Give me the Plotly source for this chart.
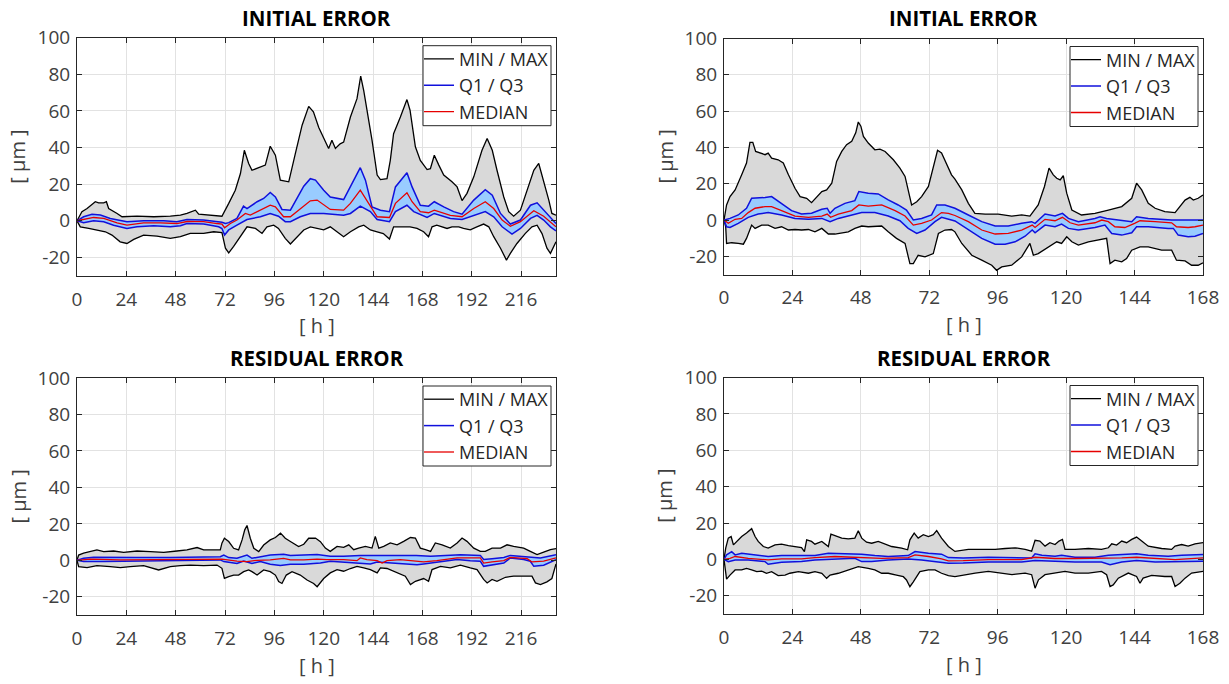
import plotly.graph_objects as go

# ---------------- DATA ----------------
# Top-left: INITIAL ERROR, 0..233 h
TL_MAX_H = [0, 2.4, 4.9, 8.9, 10.5, 13, 14.3, 15.4, 19.5, 21.9, 29.2, 37.3, 45.4, 50.3, 53.5, 57.6, 59.2, 64.9, 70.5, 73.8, 77, 79.5, 81.4, 83.5, 85.1, 88.4, 91.6, 94, 96.5, 98.9, 103, 106.2, 109.5, 112.7, 115, 117.6, 120, 122.4, 124, 125.7, 128, 129.7, 133, 136.2, 138, 139.5, 143.5, 146, 147.6, 150.8, 152.4, 154, 157.3, 160.5, 162, 164.6, 167, 170.3, 171.9, 173.8, 176, 178.4, 182.4, 184.9, 187.3, 189.7, 193, 197, 199.5, 202, 204.3, 207.6, 210, 212.4, 215.7, 219, 222.2, 224.6, 227, 229.5, 231, 233]
TL_MAX_V = [0, 4.9, 6.7, 10.4, 9.8, 9.8, 10.4, 6.7, 4, 2.2, 2.5, 2.2, 2.5, 3.1, 4, 5.8, 3.6, 3.1, 2.5, 9.5, 16.7, 25.8, 38.5, 31.3, 27.6, 29, 30.4, 40.7, 35.8, 22.2, 21.3, 36.7, 52.2, 62.5, 59.5, 51, 45, 39.5, 44, 39.5, 42, 43, 56.7, 66.7, 79, 71, 44, 25, 22.5, 23, 33, 47.6, 56.7, 66.2, 60.4, 40.4, 33, 28, 28.5, 35.8, 30.4, 25, 21.3, 18.5, 11, 15, 24, 38.5, 45, 38.5, 27.6, 13, 5, 2.5, 5.8, 16.7, 27.6, 31.3, 22, 11.3, 4, 3]
TL_MIN_H = [0, 1.6, 5.7, 9.7, 13.8, 17, 21, 24.3, 27.6, 32.4, 38.9, 45.4, 50.3, 55.1, 61.6, 66.5, 70.5, 72.2, 73.8, 76.2, 79.5, 82.7, 86.8, 90, 92.4, 95.7, 98, 101.3, 103.8, 107, 110.3, 113.5, 116.8, 120, 123.2, 126.5, 129.7, 133, 137, 139.5, 142.7, 146, 149, 152, 154, 159, 162, 165.4, 168.6, 171, 172.7, 175, 177.6, 180, 182.4, 185.7, 188, 191.3, 194.5, 197.8, 200.3, 202.7, 206, 208.9, 210.8, 214, 218, 221.3, 223.8, 226.2, 228.6, 230.3, 233]
TL_MIN_V = [0, -3.3, -4.2, -5, -6, -7.8, -11.5, -12.4, -10.2, -7.8, -8.4, -9.6, -8.7, -6.9, -6.9, -6, -6.5, -15, -17.5, -14, -8.7, -3.3, -4.2, -6.9, -3.3, -2.4, -4.2, -9.6, -12.7, -8.7, -5, -3.3, -4.2, -5, -3.3, -6, -8.7, -6, -3.3, -2.4, -5, -6, -7, -10, -3.3, -3.3, -3.3, -4.2, -6, -8.7, -3.3, -2.4, -3.3, -4.2, -3.3, -3.3, -4.2, -5, -3.3, -1.8, -3.3, -8.7, -15, -21.5, -17.8, -12.4, -7, -3.3, -2.4, -7, -15, -17.8, -11.5]
TL_Q3_H = [0, 3.2, 7.3, 11.4, 16.2, 24.3, 32.4, 42.2, 48.6, 53.5, 61.6, 68.1, 70.5, 72.2, 73.8, 77.8, 81, 82.7, 87.6, 90.8, 94, 96.5, 99.7, 103.8, 107, 110.3, 113.5, 116, 120, 123.2, 129.7, 133, 137.8, 140.3, 143.5, 147.6, 152, 154.9, 158, 160.5, 163, 167, 171, 173.8, 178.4, 183.2, 187.3, 193, 198.6, 202, 206, 210.8, 215.7, 220.6, 223.8, 227, 230.3, 233]
TL_Q3_V = [0, 2.2, 3.5, 3.1, 1.3, -0.5, 0, 0, -0.5, 0.7, 0.4, -0.5, -0.8, -1.5, -1, 1.3, 8, 6.7, 10.4, 12.2, 15.5, 13, 6.2, 5.8, 12.2, 18.9, 23, 22.2, 16.7, 13, 11.6, 18.5, 29, 22.2, 7.6, 5.8, 5, 18.5, 23, 26.2, 18.5, 8.5, 8, 10.4, 7.6, 5, 3.6, 11.3, 17, 14, 4, -1.8, 0.4, 8.5, 9.8, 5.8, 1.3, -1.5]
TL_Q1_H = [0, 3.2, 8.1, 13, 17.8, 24.3, 29.2, 37.3, 45.4, 50.3, 53.5, 61.6, 68.9, 70.5, 71.8, 73.8, 77.8, 82.7, 89.2, 94, 98, 101.3, 103.8, 108.6, 113.5, 120, 129.7, 133, 137.8, 142.7, 146, 152, 154.9, 160.5, 163.8, 170.3, 173.8, 181.6, 187.3, 193, 198.6, 202.7, 206.8, 211.6, 215.7, 220.6, 223.8, 227, 230.3, 233]
TL_Q1_V = [0, -1.1, 0, -0.5, -2.4, -4.2, -3.3, -2.7, -3.3, -2.7, -1.5, -1.8, -3.3, -4.2, -7.8, -5, -2.4, 0.7, 2.2, 4, 2.5, -0.5, -0.5, 2.2, 4, 4, 3, 4, 8, 5, 0.7, -0.5, 5, 8.5, 5, 1.8, 4, 1.3, 0.7, 3, 5, 2.2, -3.3, -7.3, -4.2, 1.3, 3, 0.4, -3.3, -5.5]
TL_MED_H = [0, 3.2, 8.1, 13, 19.5, 24.3, 32.4, 40.5, 48.6, 53.5, 61.6, 68.1, 70.5, 71.8, 74.6, 77.8, 81.9, 84.3, 89.2, 94, 96.5, 100.5, 103.8, 108.6, 113.5, 116.8, 120, 123.2, 129.7, 133, 137.8, 141, 146, 152, 154.9, 160.5, 163, 167, 171, 173.8, 181.6, 187.3, 193, 198.6, 202.7, 206.8, 210.8, 215.7, 222.2, 227, 233]
TL_MED_V = [0, 0.7, 1.8, 1.3, -1.1, -2.4, -1.1, -1.1, -1.5, -0.4, -0.5, -1.5, -1.8, -3.8, -1.5, 0.4, 4, 3.1, 5.8, 8.5, 7.6, 2.2, 2.2, 6.7, 10.9, 11.3, 8.5, 6.2, 5.8, 9.5, 16.7, 11.3, 2.2, 1.8, 9.5, 15.3, 10.4, 5, 4.4, 5.8, 3, 2.2, 6.7, 10.4, 6.7, 0.4, -3, -0.5, 5.5, 2.5, -3.3]

# Top-right: INITIAL ERROR, 0..168 h
TR_MAX_H = [0, 0.9, 2.1, 3.9, 6.2, 7.9, 9.1, 10.1, 11.1, 12.6, 14.4, 15.5, 16.7, 19, 20.8, 22.6, 24.9, 26.7, 29, 30.7, 32.5, 34.3, 36, 37.8, 39.5, 41.3, 43, 44.8, 46.2, 47.1, 48, 48.9, 50.6, 52.9, 54.7, 56.5, 59.4, 61.7, 63.5, 64.6, 65.8, 67.6, 69.3, 71.7, 73.4, 74.9, 76.3, 78.1, 79.8, 81, 83.4, 85.7, 88, 91.6, 96.2, 100.9, 104.4, 107.3, 110.2, 112.4, 114, 115.5, 116.7, 117.9, 119, 120.2, 122, 125.4, 130.1, 134.8, 139.5, 143, 144.7, 146.5, 148.8, 151.2, 154.6, 158.2, 161.7, 163.4, 164.6, 166.3, 168]
TR_MAX_V = [0, 8.3, 12.9, 16.6, 24.9, 31.4, 42.8, 42.8, 37.8, 36.9, 36, 36.9, 34.1, 33.2, 31.4, 24.9, 17.5, 12.9, 12, 9.6, 12.9, 15.7, 16.6, 20.3, 32.3, 37.8, 41.5, 43.4, 48, 54, 51.7, 46.1, 42.4, 38.7, 39.1, 37.8, 33.2, 28.6, 24, 16.6, 8.3, 10.1, 12.9, 18.5, 29.5, 38.4, 36.9, 30.4, 24.9, 22.5, 16.6, 9.2, 3.7, 3.3, 3.3, 2.2, 2.8, 2.2, 8.3, 18.5, 28.6, 24.9, 23, 22.1, 24.4, 14.8, 5.5, 2.8, 3.7, 5.5, 7.4, 12, 20.3, 16.6, 9.2, 6.5, 4.6, 4.1, 11, 12.5, 11, 12, 13.8]
TR_MIN_H = [0, 0.6, 0.9, 2.7, 5, 6.8, 7.9, 9.7, 10.9, 13.2, 15.5, 17.9, 20.2, 22.6, 24.9, 27.2, 29.6, 31.9, 34.3, 36.6, 38.9, 41.3, 43.6, 45.9, 48.3, 50.6, 52.9, 55.3, 57.6, 60.5, 63.5, 65.2, 66.4, 68.1, 70.5, 73.4, 75.2, 77.5, 79.8, 81, 83.4, 86.9, 90.4, 93.9, 95.6, 97.4, 100.9, 104.4, 107.3, 108.5, 110.2, 113.7, 116.7, 118.4, 120.2, 122, 124.3, 127.8, 131.3, 134.2, 135.4, 137.1, 139.5, 141.2, 143, 145.9, 148.8, 153.5, 157, 158.7, 161.7, 164, 166.3, 168]
TR_MIN_V = [0, -3.7, -12.9, -12.5, -12.9, -13.3, -10.1, -2.8, -4.6, -2.8, -2.8, -4.6, -3.7, -5.5, -5.2, -5.5, -5.2, -6.5, -4.6, -7.7, -7.7, -7, -6.5, -4.6, -3.3, -3.7, -3.7, -3.3, -6.5, -10.1, -12.9, -24, -24, -19.4, -20.3, -18.5, -7.4, -5.5, -5.2, -6.5, -12.9, -19.4, -22.1, -24.9, -27.7, -25.8, -24.9, -20.3, -12.9, -19.4, -18.5, -14.8, -12, -12.9, -9.2, -12, -13.8, -12, -11.1, -10.1, -24, -22.1, -23, -21.2, -16.6, -14.8, -14.8, -16.6, -16.6, -22.1, -22.5, -24.9, -24.9, -23.6]
TR_Q3_H = [0, 2.1, 5, 7.9, 9.7, 12, 14.4, 16.7, 20.2, 23.7, 27.2, 30.7, 34.3, 36.2, 37.2, 38.9, 42.4, 45.9, 47.3, 50.6, 54.1, 57.6, 61.1, 64, 66.4, 69.3, 72.8, 74.6, 77.5, 81, 85.7, 90.4, 95.1, 99.7, 104.4, 107.9, 109.1, 112.6, 116.1, 118.7, 120.8, 124.3, 130.1, 131.9, 134.2, 139.5, 143, 144.7, 148.8, 157, 168]
TR_Q3_V = [0, 0.9, 2.8, 6.5, 12, 12, 12.4, 12.9, 9.2, 5.2, 3.3, 3.7, 5.9, 6.5, 3.7, 6.5, 9.2, 10.7, 15.7, 14.8, 14.4, 11.1, 8.3, 5.5, 0, 0.9, 2.8, 8.3, 8.3, 6.5, 2.8, -0.9, -3.3, -3.3, -1.8, -0.9, -1.8, 3.3, 2.2, 3.7, 0.9, -0.9, 0.9, 1.8, 0.9, -0.4, -0.9, 1.8, 0.9, 0, 0]
TR_Q1_H = [0, 0.9, 2.1, 5, 8.5, 12, 15.5, 20.2, 24.9, 29.6, 34.3, 37.2, 40.1, 43.6, 48.3, 52.9, 57.6, 61.7, 64.6, 67.6, 70.5, 74, 76.3, 81, 85.7, 90.4, 95.1, 98.6, 102.1, 105.6, 108.1, 109.1, 112.6, 116.1, 118.4, 120.8, 124.3, 130.1, 133.6, 136, 139.5, 143, 144.7, 148.8, 155.8, 157.6, 159.3, 162.8, 165.2, 168]
TR_Q1_V = [0, -3.7, -4.1, -1.8, 1.5, 3.3, 4.1, 2.8, 0.9, 0.4, 0.9, -0.9, 0.9, 2.2, 4.1, 4.1, 2.2, -0.4, -4.6, -7.4, -5.5, -0.9, 1.5, -0.5, -5.5, -10.1, -13.3, -13.3, -12, -8.9, -5.5, -7, -2.8, -3.7, -2.2, -4.6, -5.5, -4.1, -2.8, -7.4, -8.3, -7, -3.7, -3.7, -4.6, -4.6, -8.3, -9.2, -8.9, -7.4]
TR_MED_H = [0, 1.5, 3.9, 6.2, 8.5, 10.9, 14.4, 16.7, 20.2, 24.9, 29.6, 34.3, 36.2, 37.4, 40.1, 44.8, 47.3, 50.6, 55.3, 60, 63.5, 66.4, 69.3, 72.8, 76.3, 78.7, 81, 85.7, 90.4, 95.1, 99.7, 104.4, 108.1, 109.1, 112.6, 116.1, 118.7, 121.4, 124.3, 130.1, 132.5, 134.8, 137.1, 140.6, 144, 145.9, 151.2, 157, 158.7, 162.8, 165.2, 168]
TR_MED_V = [0, -1.8, 0.4, 0.9, 4.1, 6.5, 7.4, 7.4, 5.2, 2.2, 1.5, 2.2, 3.3, 1.5, 3.3, 5.2, 8.3, 7.7, 8.3, 5.2, 2.2, -2.8, -1.8, 0, 4.1, 3.7, 2.5, -0.9, -5.5, -7.7, -7.4, -5.5, -2.8, -4.1, 0.4, -0.4, 1.5, -1.5, -2.8, -1.5, 0, -0.9, -3.7, -4.1, -1.8, -0.4, -0.9, -1.5, -3.7, -4.1, -3.7, -2.8]

# Bottom-left: RESIDUAL ERROR, 0..233 h
BL_MAX_H = [0, 0.8, 3.2, 6.5, 9.7, 13, 17.8, 22.7, 29.2, 35.7, 42.2, 48.6, 53.5, 58.4, 61.6, 66.5, 69.7, 70.5, 71.7, 73.8, 76.2, 78.6, 80.3, 81.6, 82.7, 84.3, 86, 88.4, 90.8, 94, 96.5, 99, 101.3, 103.8, 107.8, 110.3, 112.7, 116, 118.4, 120.8, 123.2, 126.5, 129.7, 132.2, 134.6, 137, 140.3, 143.5, 145.1, 146.8, 149.2, 152.4, 155.7, 158.9, 162.2, 164.6, 167, 169.5, 172, 174.3, 177.6, 181.6, 184.9, 187.3, 189.7, 193, 196.2, 198.6, 201.9, 206, 209.2, 212.4, 217.3, 220.5, 223.8, 227, 230.3, 233]
BL_MAX_V = [0, 2.9, 3.9, 4.8, 5.7, 4.8, 5.1, 4.4, 5.1, 4.8, 4.4, 5.1, 5.7, 7, 5.7, 5.7, 5.7, 9.4, 12.1, 10.3, 6.6, 5.7, 11.2, 16.7, 19.1, 12.1, 6.6, 4.8, 8.4, 11.2, 12.5, 14.9, 12.1, 10.3, 7.5, 8.8, 12.1, 12.2, 10.2, 6.7, 4.9, 7.6, 7.1, 8.5, 5.8, 6.7, 7.6, 6.7, 13.1, 6.7, 7.6, 9.5, 8.5, 10.4, 12.5, 12.2, 6.7, 5.8, 4.9, 9.5, 8.5, 6.7, 9.5, 12.2, 10.4, 6.7, 4.9, 4.9, 6.7, 6.7, 8.5, 7.6, 6.7, 4.9, 3.1, 4.5, 5.8, 6.4]
BL_MIN_H = [0, 0.8, 4.9, 9.7, 16.2, 21.1, 25.9, 32.4, 39.7, 45.4, 50.3, 55.1, 61.6, 68.1, 70.5, 71.7, 73.8, 76.2, 78.6, 81.1, 83.5, 85.1, 87.6, 90.8, 94, 96.5, 98.1, 99.7, 101.8, 104.6, 108.6, 111.9, 115.1, 116.8, 120, 123.2, 126.5, 129.7, 133, 136.2, 139.5, 142.7, 146, 147.6, 150.8, 155.7, 159.7, 162.2, 164.6, 168.6, 171, 172.7, 176.8, 181.6, 186.5, 191.3, 194.6, 197.8, 199.5, 201.9, 204.3, 208.4, 212.4, 218.9, 221.3, 223, 225.4, 228.6, 231, 233]
BL_MIN_V = [0, -3.5, -4, -2.9, -3.5, -4, -3.5, -2.9, -5.3, -3.5, -2.9, -2.6, -2.9, -2.6, -4.4, -9.9, -9, -8.1, -8.1, -6.2, -5.3, -6.2, -8.1, -5.3, -6.2, -8.1, -11.7, -12.7, -8.1, -6.2, -8.1, -10.8, -12.7, -14.5, -10, -6.9, -5.1, -6, -4.5, -3.3, -4.2, -5.1, -6.9, -4.2, -4.5, -6.9, -8.7, -13.3, -11.5, -10, -11.5, -5.1, -3.3, -4.2, -2.7, -4.2, -5.1, -10.5, -12.4, -10.5, -11.5, -9.3, -8.7, -8.7, -8.7, -12.4, -13.3, -11.8, -10, -2]
BL_Q3_H = [0, 3.2, 8.1, 16.2, 29.2, 45.4, 61.6, 69.7, 71.4, 73.8, 77.8, 82.7, 85.1, 89.2, 94, 100.5, 103.8, 110.3, 116.8, 123.2, 129.7, 137.8, 142.7, 147.6, 152.4, 160.5, 165, 172, 178.4, 186.5, 196.2, 197.8, 201.9, 207.6, 210.8, 217.3, 221.3, 225.4, 233]
BL_Q3_V = [0, 1.1, 1.7, 1.5, 1.5, 1.5, 1.8, 2, 2.9, 1.5, 1.1, 2.9, 1.1, 2, 2.9, 3.3, 2.6, 2.9, 3.2, 2.2, 2.2, 2.7, 2.7, 2.7, 3.1, 2.7, 2.7, 2.2, 2.7, 3.1, 2.7, 0.4, 0.9, 1.6, 2.7, 2.2, 1.6, 1.3, 3.1]
BL_Q1_H = [0, 3.2, 13, 29.2, 45.4, 61.6, 69.7, 71.4, 73.8, 77.8, 81.1, 85.1, 89.2, 94, 98.9, 103.8, 110.3, 113.5, 118.4, 123.2, 129.7, 136.2, 142.7, 146, 152.4, 158.9, 165.4, 168.6, 175, 184.9, 191.3, 196.2, 197.8, 201.9, 207.6, 210.8, 217.3, 220.5, 222.2, 227, 233]
BL_Q1_V = [0, -0.7, -0.7, -0.4, -0.4, 0, 0.2, -0.7, -1.1, -1.7, -0.4, -1.7, -0.7, -2.2, -2.9, -2.2, -2.2, -2, -1.5, -0.5, -0.9, -1.5, -2, -0.9, -1.5, -2, -2.4, -2, -0.9, 0.4, -0.2, -0.5, -3.3, -2.4, -1.5, 1.3, 0.4, -0.5, -3.3, -2.7, 0.4]
BL_MED_H = [0, 6.5, 21.1, 45.4, 61.6, 70.5, 77.8, 82.7, 87.6, 94, 100.5, 103.8, 110.3, 116.8, 121.6, 129.7, 136.2, 137.8, 141, 146, 148.4, 150.8, 157.3, 162.2, 168.6, 175, 184.9, 196.2, 197.8, 201.9, 207.6, 210.8, 219, 221.3, 227, 233]
BL_MED_V = [0, 0.6, 0.2, 0.6, 0.7, 0.7, -0.4, -0.7, 0, 0.2, 1.1, 0.2, 0.2, 0.6, 0.4, 0.4, -0.2, 1.3, 0.4, -0.2, -1.5, -0.2, 0.4, -0.2, -0.9, -0.2, 1.3, 1.3, -1.5, -0.9, -0.2, 1.6, 0.9, -0.9, -0.5, 1.3]

# Bottom-right: RESIDUAL ERROR, 0..168 h
BR_MAX_H = [0, 0.6, 1.5, 2.5, 3.3, 4.4, 6.2, 7.9, 9.7, 10.9, 12, 13.8, 15.5, 17.9, 20.2, 22.6, 24.9, 27.2, 28.2, 29, 30.7, 31.9, 34.3, 36.6, 37.5, 39.5, 41.3, 43.6, 45.9, 47.1, 48.3, 50, 51.8, 54.1, 56.5, 58.8, 62.3, 64.4, 65.2, 66.7, 68.1, 69.9, 71.7, 73.4, 74.6, 76.3, 78.7, 81, 85.7, 90.4, 95.1, 98.6, 102.1, 105.6, 107.9, 109.1, 110.8, 112.6, 114.3, 116.1, 117.5, 118.7, 119.6, 123.1, 127.8, 132.4, 134.8, 136, 137.7, 139.5, 141.2, 143, 144.7, 146.5, 148.8, 153.5, 157, 158.2, 160.5, 162.8, 165.2, 168]
BR_MAX_V = [0, 6.2, 11.7, 12.6, 8, 9.9, 12.6, 14.5, 16.9, 12.6, 9.9, 7.1, 6.2, 8, 8.4, 7.6, 7.1, 6.5, 4.3, 10.8, 9.9, 8.4, 9.9, 7.1, 13.9, 12.6, 11.7, 11.3, 11.7, 15.8, 11.7, 9.5, 8.9, 9.9, 8.4, 7.1, 6.2, 5.3, 10.8, 14.5, 11.7, 13.6, 12.6, 13.6, 15.8, 11.7, 7.1, 4.4, 5.5, 5.5, 5.5, 6, 6.4, 5.5, 4.5, 10.5, 10.1, 7.3, 9.2, 8.2, 10.1, 11, 5.5, 5.5, 6, 5.5, 6.4, 8.6, 7.9, 10.1, 9.2, 11, 12.3, 10.1, 7.3, 6, 5.5, 7.3, 8.2, 7.3, 8.6, 9.2]
BR_MIN_H = [0, 0.6, 0.9, 2.1, 3.9, 6.2, 7.9, 9.7, 11.5, 13.2, 14.9, 16.7, 19, 21.4, 23.1, 26.1, 29.6, 31.9, 34.3, 36, 37.2, 40.1, 43.6, 47.1, 50.6, 52.9, 55.3, 57.6, 60.5, 62.9, 64, 65.2, 66.4, 68.7, 71.7, 74, 76.3, 78.7, 81, 84.6, 88.1, 92.7, 96.2, 101, 105.6, 107.9, 109.1, 110.3, 112.6, 116.1, 119.6, 123.1, 127.8, 132.4, 134.2, 135.4, 136.5, 138.3, 141.8, 144.7, 145.9, 147, 150, 154.6, 157, 158.2, 159.9, 161.7, 164, 168]
BR_MIN_V = [0, -6.7, -10.8, -8.6, -5.8, -5.8, -4.9, -5.8, -6.7, -6.4, -7.6, -6.7, -8.9, -8.6, -7.6, -6.7, -7.6, -6.7, -7.6, -10.4, -8.6, -7.6, -5.8, -4, -4.9, -5.8, -7.6, -7.6, -8.6, -9.5, -11.3, -15, -12.3, -6.7, -5.8, -5.8, -7.6, -8.9, -9.4, -8.4, -7.5, -6.6, -7.5, -8.4, -7.5, -8.4, -15.8, -11.2, -8.4, -7.5, -6.6, -7.5, -7.5, -6.6, -8.4, -14.9, -14, -10.3, -7.5, -9.4, -13.1, -10.3, -8.8, -9.4, -9.4, -14.9, -13.1, -10.3, -7.5, -6.6]
BR_Q3_H = [0, 0.9, 2.7, 3.9, 6.2, 8.5, 12, 15.5, 20.2, 24.9, 28.4, 31.9, 36.6, 43.6, 48.3, 52.9, 57.6, 64.6, 67, 71.7, 76.3, 78.7, 83.9, 92.7, 104.4, 107.9, 109.1, 111.5, 116.1, 118.4, 123.1, 130.1, 134.8, 139.5, 144.7, 148.8, 155.8, 160.5, 168]
BR_Q3_V = [0, 2.5, 4.3, 2.5, 3.4, 2.9, 2.5, 1.6, 2.1, 2.1, 2.5, 2.1, 3.4, 2.9, 2.9, 2.1, 1.6, 2.1, 4.3, 3.4, 2.9, 1, 0.8, 1.2, 1.2, 0.8, 3.1, 2.3, 1.8, 2.3, 1.2, 1.2, 2.3, 2.7, 3.1, 2.3, 1.8, 2.3, 2.7]
BR_Q1_H = [0, 1.5, 3.9, 8.5, 14.4, 15.5, 20.2, 27.2, 31.9, 38.9, 45.9, 48.3, 51.8, 57.6, 64.6, 69.3, 74, 78.7, 83.9, 92.7, 104.4, 109.1, 116.1, 123.1, 132.4, 135.4, 139.5, 144.7, 151.2, 160.5, 168]
BR_Q1_V = [0, -1.2, -0.3, -0.3, -1.2, -2.7, -1.6, -1.2, -0.3, 0.3, 0.6, -1.2, -1.2, -0.3, 0.3, -0.3, -1.2, -2.1, -2, -1.4, -1.4, -0.6, -1, -1.4, -1.4, -2.9, -1.4, -0.6, -1.4, -1.4, -1]
BR_MED_H = [0, 2.1, 3.9, 8.5, 15.5, 20.2, 27.2, 31.9, 38.9, 48.3, 55.3, 64.6, 67, 71.7, 76.3, 78.7, 83.9, 92.7, 104.4, 109.1, 116.1, 123.1, 132.4, 139.5, 144.7, 151.2, 158.2, 168]
BR_MED_V = [0, 0.6, 1.6, 0.6, -0.3, 0.3, 0.3, 1, 1.6, 1, 0.6, 1, 2.5, 1.6, 0.3, -0.8, -0.7, -0.1, -0.1, 1.2, 0.5, 0.5, 0.5, 0.8, 1.2, 0.5, -0.1, 0.8]

TITLES = ["INITIAL ERROR", "INITIAL ERROR", "RESIDUAL ERROR", "RESIDUAL ERROR"]
X_MAX = [233, 168, 233, 168]
X_TICKS = [list(range(0, 217, 24)), list(range(0, 169, 24)), list(range(0, 217, 24)), list(range(0, 169, 24))]
Y_TICKS = [-20, 0, 20, 40, 60, 80, 100]
LEGEND_NAMES = ["MIN / MAX", "Q1 / Q3", "MEDIAN"]
X_LABEL = "[ h ]"
Y_LABEL = "[ μm ]"

# ---------------- STYLE / LAYOUT ----------------
W, H = 1229, 684
FONT = "Open Sans"
TXT = "#404040"
AXC = "#262626"
GRID = "#e2e2e2"
GRAY_FILL = "#d9d9d9"
BLUE_FILL = "#99ccff"
BLUE = "#1010dc"
RED = "#e60000"

# plot boxes in pixels: (left, right, top, bottom)
BOXES = [(77, 556, 37.7, 275.7), (724, 1203, 38.5, 274.5),
         (77, 556, 378, 615), (724, 1203, 377.5, 614)]

PANEL_DATA = [
    (TL_MAX_H, TL_MAX_V, TL_MIN_H, TL_MIN_V, TL_Q3_H, TL_Q3_V, TL_Q1_H, TL_Q1_V, TL_MED_H, TL_MED_V),
    (TR_MAX_H, TR_MAX_V, TR_MIN_H, TR_MIN_V, TR_Q3_H, TR_Q3_V, TR_Q1_H, TR_Q1_V, TR_MED_H, TR_MED_V),
    (BL_MAX_H, BL_MAX_V, BL_MIN_H, BL_MIN_V, BL_Q3_H, BL_Q3_V, BL_Q1_H, BL_Q1_V, BL_MED_H, BL_MED_V),
    (BR_MAX_H, BR_MAX_V, BR_MIN_H, BR_MIN_V, BR_Q3_H, BR_Q3_V, BR_Q1_H, BR_Q1_V, BR_MED_H, BR_MED_V),
]

fig = go.Figure()
layout = dict(width=W, height=H, autosize=False,
              margin=dict(l=0, r=0, t=0, b=0, autoexpand=False),
              paper_bgcolor="white", plot_bgcolor="white",
              font=dict(family=FONT, color=TXT, size=19),
              showlegend=True)
annotations = []
shapes = []

for i in range(4):
    sfx = "" if i == 0 else str(i + 1)
    xa, ya = "x" + sfx, "y" + sfx
    lg = "legend" + sfx
    mxh, mxv, mnh, mnv, q3h, q3v, q1h, q1v, mdh, mdv = PANEL_DATA[i]
    L, R, T, B = BOXES[i]

    # gray min/max band
    fig.add_trace(go.Scatter(x=list(mxh) + list(mnh)[::-1], y=list(mxv) + list(mnv)[::-1],
                             fill="toself", fillcolor=GRAY_FILL, mode="lines",
                             line=dict(width=0, color=GRAY_FILL), hoverinfo="skip",
                             showlegend=False, xaxis=xa, yaxis=ya))
    # light blue quartile band
    fig.add_trace(go.Scatter(x=list(q3h) + list(q1h)[::-1], y=list(q3v) + list(q1v)[::-1],
                             fill="toself", fillcolor=BLUE_FILL, mode="lines",
                             line=dict(width=0, color=BLUE_FILL), hoverinfo="skip",
                             showlegend=False, xaxis=xa, yaxis=ya))
    fig.add_trace(go.Scatter(x=mxh, y=mxv, mode="lines", name=LEGEND_NAMES[0],
                             line=dict(color="black", width=1.3), legend=lg,
                             xaxis=xa, yaxis=ya))
    fig.add_trace(go.Scatter(x=mnh, y=mnv, mode="lines", showlegend=False,
                             line=dict(color="black", width=1.3), xaxis=xa, yaxis=ya))
    fig.add_trace(go.Scatter(x=q3h, y=q3v, mode="lines", name=LEGEND_NAMES[1],
                             line=dict(color=BLUE, width=1.5), legend=lg,
                             xaxis=xa, yaxis=ya))
    fig.add_trace(go.Scatter(x=q1h, y=q1v, mode="lines", showlegend=False,
                             line=dict(color=BLUE, width=1.5), xaxis=xa, yaxis=ya))
    fig.add_trace(go.Scatter(x=mdh, y=mdv, mode="lines", name=LEGEND_NAMES[2],
                             line=dict(color=RED, width=1.3), legend=lg,
                             xaxis=xa, yaxis=ya))

    common = dict(showgrid=True, gridcolor=GRID, gridwidth=1, zeroline=False,
                  showline=True, linecolor=AXC, linewidth=1, mirror="ticks",
                  ticks="inside", ticklen=5, tickwidth=1, tickcolor=AXC,
                  tickfont=dict(family=FONT, size=19, color=TXT), fixedrange=True,
                  automargin=False)
    layout["xaxis" + sfx] = dict(common, domain=[L / W, R / W], range=[0, X_MAX[i]],
                                 tickmode="array", tickvals=X_TICKS[i],
                                 ticktext=[str(v) for v in X_TICKS[i]],
                                 anchor=ya, ticklabelstandoff=6)
    layout["yaxis" + sfx] = dict(common, domain=[1 - B / H, 1 - T / H], range=[-30, 100],
                                 tickmode="array", tickvals=Y_TICKS,
                                 ticktext=[str(v) for v in Y_TICKS],
                                 anchor=xa, ticklabelstandoff=2)

    # legend frame (opaque white box with dark border), legend entries drawn on top
    shapes.append(dict(type="rect", xref="paper", yref="paper", layer="above",
                       x0=(R - 133) / W, x1=(R - 5) / W,
                       y0=1 - (T + 88) / H, y1=1 - (T + 8) / H,
                       fillcolor="white", line=dict(color=AXC, width=1)))
    layout[lg] = dict(x=(R - 137) / W, y=1 - (T + 3) / H, xanchor="left", yanchor="top",
                      bgcolor="rgba(0,0,0,0)", borderwidth=0,
                      font=dict(family=FONT, size=18, color=AXC),
                      itemwidth=30, tracegroupgap=0)

    cx = (L + R) / 2
    annotations.append(dict(text="<b>" + TITLES[i] + "</b>", x=cx / W, y=1 - (T - 20) / H,
                            xref="paper", yref="paper", showarrow=False,
                            xanchor="center", yanchor="middle",
                            font=dict(family=FONT, size=20.5, color="black")))
    annotations.append(dict(text=X_LABEL, x=cx / W, y=1 - (B + 50) / H,
                            xref="paper", yref="paper", showarrow=False,
                            xanchor="center", yanchor="middle",
                            font=dict(family=FONT, size=20, color=TXT)))
    annotations.append(dict(text=Y_LABEL, x=(L - 59) / W, y=1 - ((T + B) / 2) / H,
                            xref="paper", yref="paper", showarrow=False, textangle=-90,
                            xanchor="center", yanchor="middle",
                            font=dict(family=FONT, size=20, color=TXT)))

layout["annotations"] = annotations
layout["shapes"] = shapes
fig.update_layout(**layout)
fig.write_html("out.html",
               config={"displayModeBar": False},
               post_script="document.body.style.margin='0px';"
                           "document.documentElement.style.overflow='hidden';")
